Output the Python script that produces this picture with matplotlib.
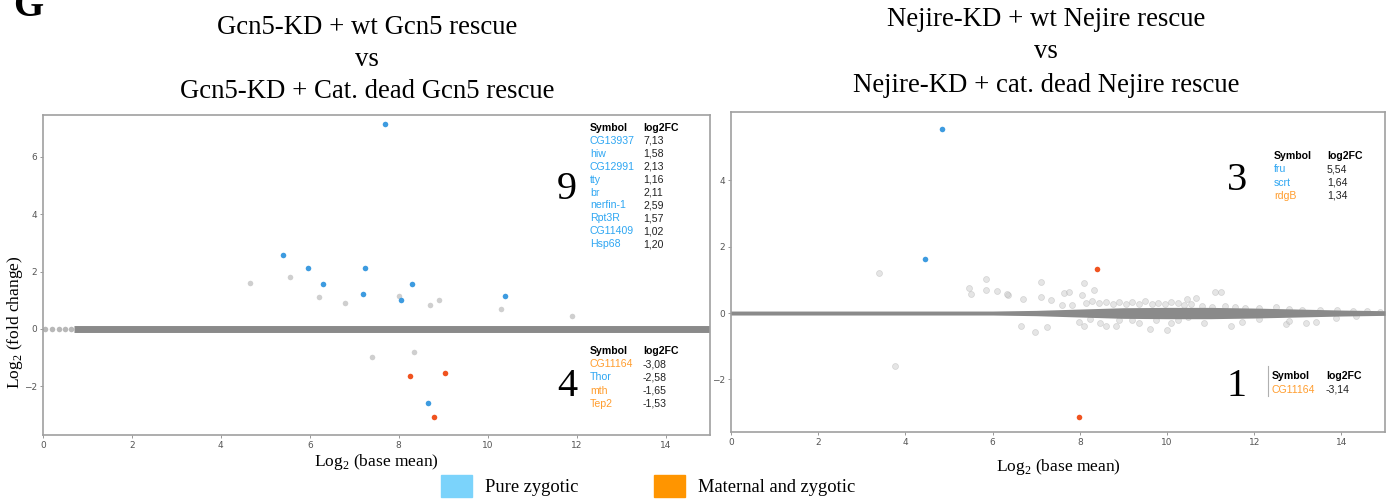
import matplotlib
matplotlib.use("Agg")
import matplotlib.pyplot as plt
from matplotlib.patches import Rectangle

plt.rcParams['mathtext.fontset'] = 'custom'
plt.rcParams['mathtext.rm'] = 'Liberation Serif'

W, H = 1400, 499
SERIF = 'Liberation Serif'
SANS = 'Liberation Sans'
BLUE_PT = '#3d9be0'
RED_PT = '#f0531f'
GREY_PT = '#cfcfcf'
BAND = '#8a8a8a'
BLUE_TXT = '#2ea6f2'
ORANGE_TXT = '#ff9d2e'

# ---------------- data: left panel (Gcn5) ----------------
gcn5_grey_x = [4.65, 5.55, 6.2, 6.8, 8.0, 8.7, 8.9, 10.3, 11.9, 7.4, 8.35]
gcn5_grey_y = [1.6, 1.8, 1.12, 0.9, 1.15, 0.83, 1.0, 0.68, 0.45, -0.98, -0.82]
gcn5_zero_x = [0.05, 0.2, 0.35, 0.5, 0.62]
gcn5_blue_x = [7.7, 5.4, 5.95, 6.3, 7.25, 7.2, 8.05, 8.3, 10.4, 8.65]
gcn5_blue_y = [7.13, 2.59, 2.11, 1.58, 2.13, 1.2, 1.02, 1.57, 1.16, -2.58]
gcn5_red_x = [8.25, 9.05, 8.8]
gcn5_red_y = [-1.65, -1.53, -3.08]

gcn5_up_symbols = ['CG13937', 'hiw', 'CG12991', 'tty', 'br', 'nerfin-1', 'Rpt3R', 'CG11409', 'Hsp68']
gcn5_up_fc = ['7,13', '1,58', '2,13', '1,16', '2,11', '2,59', '1,57', '1,02', '1,20']
gcn5_up_type = ['z'] * 9
gcn5_dn_symbols = ['CG11164', 'Thor', 'mth', 'Tep2']
gcn5_dn_fc = ['-3,08', '-2,58', '-1,65', '-1,53']
gcn5_dn_type = ['mz', 'z', 'mz', 'mz']

# ---------------- data: right panel (Nejire) ----------------
nej_grey_x = [3.4, 3.75, 5.45, 5.5, 5.85, 5.85, 6.1, 6.35, 6.32, 6.69, 7.1, 7.1, 7.33,
              7.63, 7.75, 8.09, 8.05, 8.32, 7.59, 7.82, 8.14, 8.28, 8.44, 8.6, 8.75,
              8.9, 9.05, 9.2, 9.35, 9.5, 9.65, 9.8, 9.95, 10.1, 10.25, 10.4, 10.55,
              10.47, 10.66, 11.1, 11.23, 10.81, 11.04, 11.34, 11.57, 11.8, 12.1, 12.49,
              12.8, 13.1, 13.5, 13.89, 14.27, 14.58, 14.89,
              7.98, 8.09, 8.24, 8.47, 8.59, 8.82, 8.9, 9.2, 9.35, 9.62, 9.74, 10.0,
              10.1, 10.25, 10.48, 6.64, 6.98, 7.25, 10.85, 11.46, 11.73, 12.11, 12.73,
              12.8, 13.18, 13.41, 13.87, 14.33]
nej_grey_y = [1.2, -1.6, 0.75, 0.58, 1.02, 0.68, 0.65, 0.55, 0.57, 0.42, 0.92, 0.48, 0.39,
              0.6, 0.63, 0.89, 0.54, 0.69, 0.25, 0.24, 0.3, 0.36, 0.29, 0.33, 0.27,
              0.34, 0.26, 0.32, 0.28, 0.35, 0.27, 0.31, 0.26, 0.33, 0.3, 0.25, 0.28,
              0.42, 0.44, 0.64, 0.62, 0.2, 0.19, 0.2, 0.17, 0.15, 0.15, 0.19,
              0.12, 0.1, 0.1, 0.08, 0.05, 0.05, 0.04,
              -0.26, -0.39, -0.17, -0.3, -0.4, -0.4, -0.2, -0.21, -0.31, -0.49, -0.21, -0.51,
              -0.31, -0.21, -0.12, -0.39, -0.56, -0.43, -0.29, -0.39, -0.26, -0.18, -0.34,
              -0.23, -0.29, -0.26, -0.14, -0.09]
nej_blue_x = [4.85, 4.45]
nej_blue_y = [5.54, 1.64]
nej_red_x = [8.4, 7.98]
nej_red_y = [1.34, -3.14]
# half-width of the dense cloud around zero along base mean
nej_band_x = [0, 6, 7, 8, 9, 10, 11, 12, 13, 14, 15]
nej_band_w = [0.06, 0.06, 0.08, 0.12, 0.16, 0.17, 0.17, 0.15, 0.12, 0.09, 0.07]

nej_up_symbols = ['fru', 'scrt', 'rdgB']
nej_up_fc = ['5,54', '1,64', '1,34']
nej_up_type = ['z', 'z', 'mz']
nej_dn_symbols = ['CG11164']
nej_dn_fc = ['-3,14']
nej_dn_type = ['mz']

fig = plt.figure(figsize=(W / 100, H / 100), dpi=100)


def fx(x):
    return x / W


def fy(y):
    return 1 - y / H


def make_ax(x0, x1, y0, y1):
    ax = fig.add_axes([fx(x0), fy(y1), fx(x1) - fx(x0), fy(y0) - fy(y1)])
    for s in ax.spines.values():
        s.set_color('#a0a0a0')
        s.set_linewidth(1.2)
    ax.tick_params(labelsize=6.5, colors='#555555', length=2.5, width=0.6,
                   color='#888888', pad=2)
    ax.set_xticks([0, 2, 4, 6, 8, 10, 12, 14])
    return ax


# ---------- left axes ----------
axL = make_ax(43, 710, 115, 435)
axL.set_xlim(0, 15)
axL.set_ylim(-3.7, 7.46)
axL.set_yticks([-2, 0, 2, 4, 6])
axL.plot([0.7, 15], [0, 0], color=BAND, lw=5, solid_capstyle='butt', zorder=2)
axL.scatter(gcn5_zero_x, [0] * len(gcn5_zero_x), s=16, color=BAND, alpha=0.6, lw=0, zorder=2)
axL.scatter(gcn5_grey_x, gcn5_grey_y, s=16, color=GREY_PT, lw=0, zorder=3)
axL.scatter(gcn5_blue_x, gcn5_blue_y, s=16, color=BLUE_PT, lw=0, zorder=4)
axL.scatter(gcn5_red_x, gcn5_red_y, s=16, color=RED_PT, lw=0, zorder=4)
axL.set_xlabel(r'Log$_2$ (base mean)', fontfamily=SERIF, fontsize=12.5, labelpad=1)
fig.text(fx(15), fy(322), r'Log$_2$ (fold change)', fontfamily=SERIF, fontsize=12.5,
         rotation=90, ha='center', va='center')

# ---------- right axes ----------
axR = make_ax(731, 1385, 112, 432)
axR.set_xlim(0, 15)
axR.set_ylim(-3.58, 6.05)
axR.set_yticks([-2, 0, 2, 4])
axR.set_yticklabels(['\u22122', '0', '2', '4'])
lo = [-w for w in nej_band_w]
axR.fill_between(nej_band_x, lo, nej_band_w, color=BAND, lw=0, zorder=3)
axR.scatter(nej_grey_x, nej_grey_y, s=18, facecolor='#cdcdcd', edgecolor='#b0b0b0',
            lw=0.5, alpha=0.5, zorder=2)
axR.scatter(nej_blue_x, nej_blue_y, s=16, color=BLUE_PT, lw=0, zorder=4)
axR.scatter(nej_red_x, nej_red_y, s=16, color=RED_PT, lw=0, zorder=4)
axR.set_xlabel(r'Log$_2$ (base mean)', fontfamily=SERIF, fontsize=12.5, labelpad=7)

# ---------- titles ----------
TFS = 19.3
for i, line in enumerate(['Gcn5-KD + wt Gcn5 rescue', 'vs', 'Gcn5-KD + Cat. dead Gcn5 rescue']):
    fig.text(fx(367), fy([28, 60, 92][i]), line, fontfamily=SERIF, fontsize=TFS,
             ha='center', va='center')
for i, line in enumerate(['Nejire-KD + wt Nejire rescue', 'vs', 'Nejire-KD + cat. dead Nejire rescue']):
    fig.text(fx(1046), fy([19, 52, 85][i]), line, fontfamily=SERIF, fontsize=TFS,
             ha='center', va='center')
fig.text(fx(13), fy(16), 'G', fontfamily=SERIF, fontsize=28, fontweight='bold',
         ha='left', va='baseline')

# ---------- counts ----------
for (x, y, t) in [(567, 190, '9'), (567, 387, '4'), (1237, 180, '3'), (1237, 386, '1')]:
    fig.text(fx(x), fy(y), t, fontfamily=SERIF, fontsize=29, ha='center', va='center')


# ---------- tables ----------
def table(x_sym, x_fc, y0, dy, syms, fcs, types):
    fig.text(fx(x_sym), fy(y0), 'Symbol', fontfamily=SANS, fontsize=7.6, fontweight='bold',
             ha='left', va='center')
    fig.text(fx(x_fc), fy(y0), 'log2FC', fontfamily=SANS, fontsize=7.6, fontweight='bold',
             ha='left', va='center')
    for i, (s, f, t) in enumerate(zip(syms, fcs, types)):
        y = y0 + (i + 1) * dy
        fig.text(fx(x_sym), fy(y), s, fontfamily=SANS, fontsize=7.6,
                 color=BLUE_TXT if t == 'z' else ORANGE_TXT, ha='left', va='center')
        fig.text(fx(x_fc), fy(y), f, fontfamily=SANS, fontsize=7.6, color='#222222',
                 ha='left', va='center')


table(590, 643, 128, 12.9, gcn5_up_symbols, gcn5_up_fc, gcn5_up_type)
table(590, 643, 351, 13.2, gcn5_dn_symbols, gcn5_dn_fc, gcn5_dn_type)
table(1274, 1327, 156, 13.3, nej_up_symbols, nej_up_fc, nej_up_type)
table(1272, 1326, 376, 14.0, nej_dn_symbols, nej_dn_fc, nej_dn_type)
fig.add_artist(plt.Line2D([fx(1268), fx(1268)], [fy(366), fy(396)], color='#b0b0b0', lw=0.8))

# ---------- legend ----------
fig.add_artist(Rectangle((fx(441), fy(497)), fx(31), fy(475) - fy(497), color='#7bd3fb',
                         transform=fig.transFigure))
fig.text(fx(485), fy(487), 'Pure zygotic', fontfamily=SERIF, fontsize=13.3, ha='left', va='center')
fig.add_artist(Rectangle((fx(654), fy(497)), fx(31), fy(475) - fy(497), color='#ff9500',
                         transform=fig.transFigure))
fig.text(fx(698), fy(487), 'Maternal and zygotic', fontfamily=SERIF, fontsize=13.3,
         ha='left', va='center')

fig.savefig('out.png', dpi=100)
